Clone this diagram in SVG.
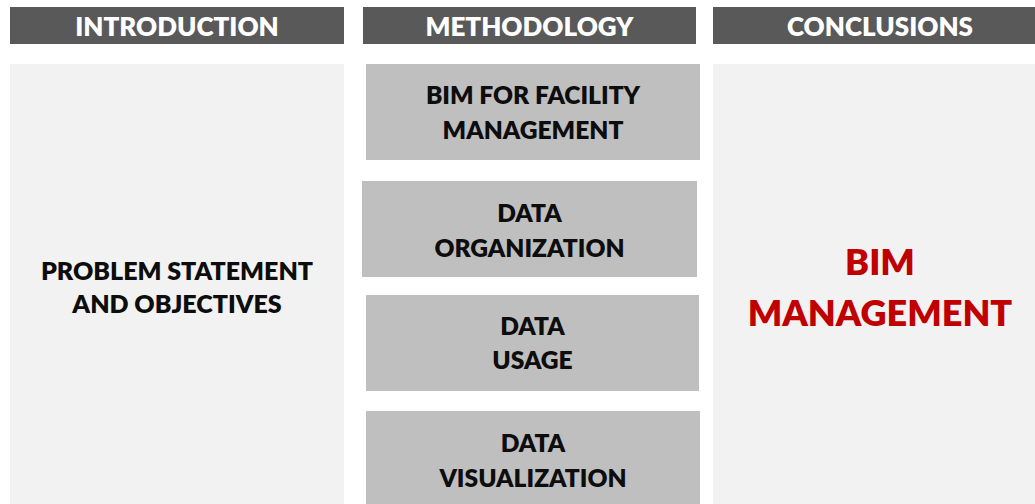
<svg xmlns="http://www.w3.org/2000/svg" width="1035" height="504" viewBox="0 0 1035 504">
<style>
.hdr{fill:#595959}
.hdt{font-family:Lato,"Open Sans","Liberation Sans",sans-serif;font-weight:800;font-size:26px;fill:#ffffff;text-anchor:middle}
.body{fill:#f2f2f2}
.box{fill:#bfbfbf}
.t{font-family:Lato,"Open Sans","Liberation Sans",sans-serif;font-weight:800;font-size:24.6px;fill:#0d0d0d;text-anchor:middle}
.it{font-size:25px}
.big{font-family:Lato,"Open Sans","Liberation Sans",sans-serif;font-weight:800;font-size:36px;fill:#c00000;text-anchor:middle}
</style>
<rect width="1035" height="504" fill="#ffffff"/>
<g id="hdr-introduction">
<rect class="hdr" x="10" y="7" width="334" height="37"/>
<text class="hdt" x="177" y="36">INTRODUCTION</text>
</g>
<g id="hdr-methodology">
<rect class="hdr" x="363" y="7" width="333" height="37"/>
<text class="hdt" x="529.5" y="36">METHODOLOGY</text>
</g>
<g id="hdr-conclusions">
<rect class="hdr" x="713" y="7" width="334" height="37"/>
<text class="hdt" x="880" y="36">CONCLUSIONS</text>
</g>
<g id="introduction">
<rect class="body" x="10" y="64" width="334" height="440"/>
<text class="t it" x="177" y="280">PROBLEM STATEMENT</text>
<text class="t it" x="177" y="313">AND OBJECTIVES</text>
</g>
<g id="bim-fm">
<rect class="box" x="366" y="64" width="334" height="96"/>
<text class="t" x="533" y="104">BIM FOR FACILITY</text>
<text class="t" x="533" y="139">MANAGEMENT</text>
</g>
<g id="data-organization">
<rect class="box" x="362" y="181" width="335" height="96"/>
<text class="t" x="529.5" y="222">DATA</text>
<text class="t" x="529.5" y="257">ORGANIZATION</text>
</g>
<g id="data-usage">
<rect class="box" x="366" y="295" width="333" height="96"/>
<text class="t" x="532.5" y="335">DATA</text>
<text class="t" x="532.5" y="369">USAGE</text>
</g>
<g id="data-visualization">
<rect class="box" x="366" y="411" width="334" height="93"/>
<text class="t" x="533" y="452">DATA</text>
<text class="t" x="533" y="487">VISUALIZATION</text>
</g>
<g id="conclusions">
<rect class="body" x="713" y="64" width="334" height="440"/>
<text class="big" x="880" y="275">BIM</text>
<text class="big" x="880" y="326">MANAGEMENT</text>
</g>
<g id="connectors"></g>
</svg>
